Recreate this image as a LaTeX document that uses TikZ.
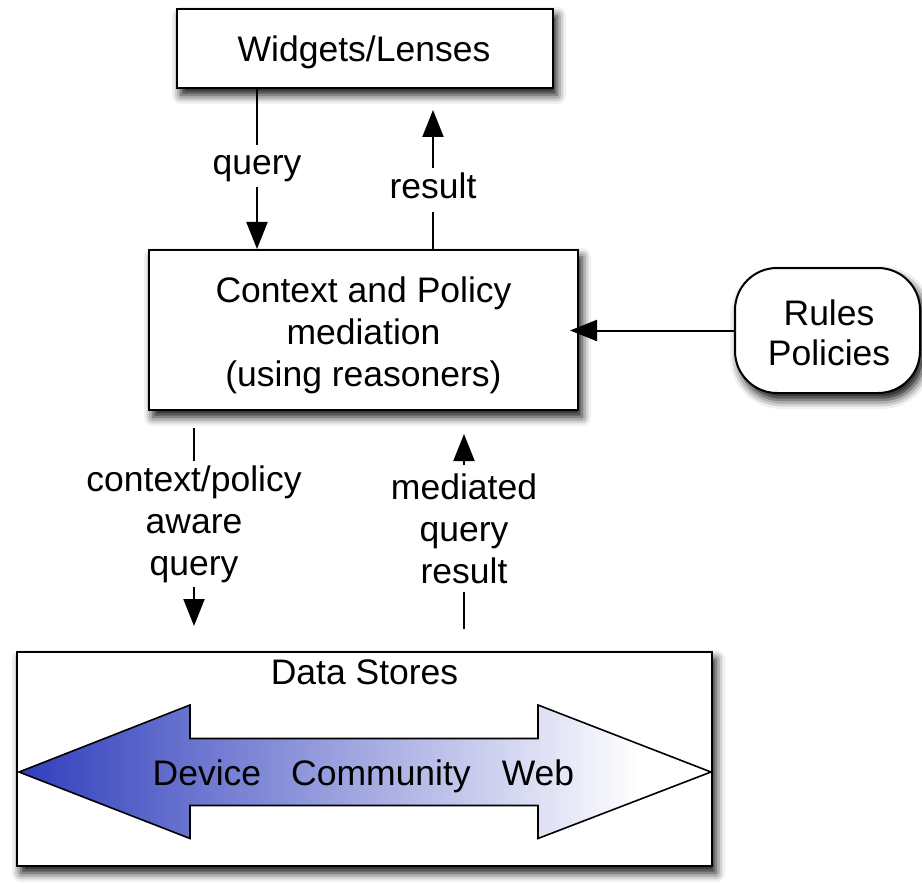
\documentclass[tikz,border=0pt]{standalone}
\usepackage{fontspec}
\setmainfont{Liberation Sans}
\usetikzlibrary{arrows.meta,shadows.blur}
\definecolor{dsblue}{RGB}{48,62,188}
\begin{document}
\begin{tikzpicture}[x=1pt,y=-1pt,
  font=\fontsize{35.5}{42}\selectfont,
  box/.style={draw, line width=2pt, fill=white, inner sep=0pt, align=center,
    blur shadow={shadow xshift=4pt, shadow yshift=-7pt, shadow blur radius=9pt, shadow opacity=95}},
  conn/.style={line width=2pt},
  arr/.style={conn, -{Triangle[length=27pt,width=21pt]}},
  lbl/.style={inner sep=0pt, align=center},
  one/.style={text height=25pt, text depth=8pt}]
\useasboundingbox (0,0) rectangle (922,888);

% boxes
\node[box, minimum width=376pt, minimum height=79pt] (wid) at (365,48.5) {};
\node[lbl] (widt) at (364,52) {Widgets/Lenses};
\node[box, minimum width=429pt, minimum height=160pt] (mid) at (363.5,330) {};
\node[lbl] (midt) at (363.5,335) {Context and Policy\\mediation\\(using reasoners)};
\node[box, rounded corners=42pt, minimum width=185pt, minimum height=125pt] (rul) at (827.5,330.5) {};
\node[lbl, font=\fontsize{35.5}{40}\selectfont] (rult) at (829,333) {Rules\\Policies};
\node[box, minimum width=695pt, minimum height=214pt] (ds) at (364.5,759) {};
\node[anchor=north, inner sep=0pt] (dst) at (364.5,660) {Data Stores};

% gradient double arrow
\begin{scope}
  \clip (19,772) -- (190,705) -- (190,738.5) -- (538,738.5) -- (538,705) -- (711,772)
        -- (538,838.5) -- (538,805.5) -- (190,805.5) -- (190,838.5) -- cycle;
  \shade[left color=dsblue, right color=white] (19,700) rectangle (640,845);
\end{scope}
\draw[line width=1.6pt, line join=miter]
      (19,772) -- (190,705) -- (190,738.5) -- (538,738.5) -- (538,705) -- (711,772)
        -- (538,838.5) -- (538,805.5) -- (190,805.5) -- (190,838.5) -- cycle;
\node[anchor=base, inner sep=0pt] (dev) at (207,785) {Device};
\node[anchor=base, inner sep=0pt] (com) at (381,785) {Community};
\node[anchor=base, inner sep=0pt] (web) at (538,785) {Web};

% connectors with labels
\node[lbl, one, minimum height=42pt] (ql) at (257,166) {query};
\draw[conn] (wid.south -| ql) -- (ql);
\draw[arr] (ql) -- (mid.north -| ql);

\node[lbl, one, minimum height=43pt] (rl) at (433,190) {result};
\draw[conn] (mid.north -| rl) -- (rl);
\draw[arr, shorten >=21pt] (rl) -- (wid.south -| rl);

\node[lbl, minimum height=125pt] (cl) at (194,524) {context/policy\\aware\\query};
\draw[conn, shorten <=17pt] (mid.south -| cl) -- (cl);
\draw[arr, shorten >=25pt] (cl) -- (ds.north -| cl);

\node[lbl, minimum height=127pt] (ml) at (464,528.5) {mediated\\query\\result};
\draw[conn, shorten <=22pt] (ds.north -| ml) -- (ml);
\draw[arr, shorten >=23pt] (ml) -- (mid.south -| ml);

\draw[arr, shorten >=-9pt] (rul.west) -- (mid.east |- rul.west);
\end{tikzpicture}
\end{document}
